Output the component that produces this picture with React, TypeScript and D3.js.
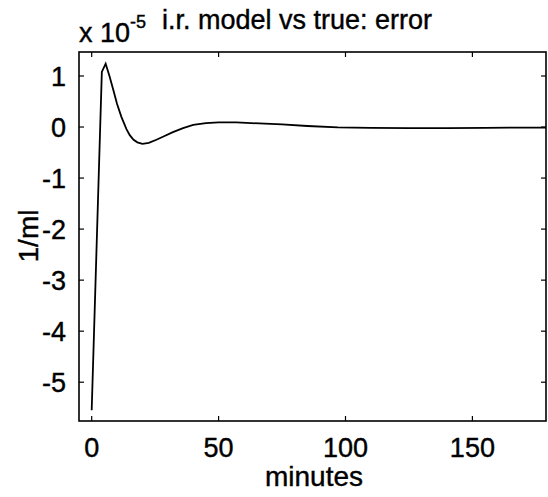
import React from "react";
import * as d3 from "d3";

const minutes = [0, 4, 5.5, 7, 8.5, 10, 11.7, 13.7, 15, 16.5, 18, 20, 22.5, 25.5, 28.5, 32, 36, 40, 45, 50, 57, 66, 75, 85, 97, 110, 125, 140, 155, 170, 180];
const errorVals = [-5.55, 1.08, 1.24, 1.0, 0.73, 0.45, 0.2, -0.04, -0.16, -0.25, -0.3, -0.33, -0.31, -0.25, -0.18, -0.1, -0.02, 0.04, 0.075, 0.09, 0.09, 0.07, 0.05, 0.02, -0.005, -0.015, -0.02, -0.02, -0.015, -0.01, -0.01];
const xTicks = [0, 50, 100, 150];
const yTicks = [-5, -4, -3, -2, -1, 0, 1];

const W = 548;
const H = 497;
const left = 79;
const right = 546;
const top = 52;
const bottom = 421;
const FONT = "'Liberation Sans', Arial, Helvetica, sans-serif";
const FS = 27;

export default function App() {
  const x = d3.scaleLinear().domain([-5, 179]).range([left, right]);
  const y = d3.scaleLinear().domain([-5.76, 1.47]).range([bottom, top]);
  const pts = minutes.map((m, i) => [m, errorVals[i]] as [number, number]);
  const line = d3
    .line<[number, number]>()
    .x((d) => x(d[0]))
    .y((d) => y(d[1]))
    .curve(d3.curveLinear);
  const tl = 5;
  const textProps = { fill: "#000", stroke: "#000", strokeWidth: 0.4 };
  return (
    <svg
      width={W}
      height={H}
      style={{ position: "absolute", left: 0, top: 0, background: "#fff" }}
      fontFamily={FONT}
    >
      <rect x={0} y={0} width={W} height={H} fill="#fff" />
      <defs>
        <clipPath id="plot">
          <rect x={left} y={top} width={right - left} height={bottom - top} />
        </clipPath>
      </defs>
      <path d={line(pts) || ""} fill="none" stroke="#000" strokeWidth={1.8} clipPath="url(#plot)" />
      <rect x={left} y={top} width={right - left} height={bottom - top} fill="none" stroke="#000" strokeWidth={1.6} />
      {xTicks.map((t) => (
        <g key={"x" + t}>
          <line x1={x(t)} x2={x(t)} y1={bottom} y2={bottom - tl} stroke="#000" strokeWidth={1.2} />
          <line x1={x(t)} x2={x(t)} y1={top} y2={top + tl} stroke="#000" strokeWidth={1.2} />
          <text x={x(t)} y={457} textAnchor="middle" fontSize={FS} {...textProps}>
            {t}
          </text>
        </g>
      ))}
      {yTicks.map((t) => (
        <g key={"y" + t}>
          <line x1={left} x2={left + tl} y1={y(t)} y2={y(t)} stroke="#000" strokeWidth={1.2} />
          <line x1={right} x2={right - tl} y1={y(t)} y2={y(t)} stroke="#000" strokeWidth={1.2} />
          <text x={66} y={y(t)} dy="0.36em" textAnchor="end" fontSize={FS} {...textProps}>
            {t}
          </text>
        </g>
      ))}
      <text x={79} y={42} fontSize={FS} {...textProps}>
        x 10
        <tspan dy={-14} fontSize={18}>
          -5
        </tspan>
      </text>
      <text x={162} y={29} fontSize={FS} {...textProps}>
        i.r. model vs true: error
      </text>
      <text x={314} y={486} textAnchor="middle" fontSize={28} {...textProps}>
        minutes
      </text>
      <text transform={`translate(38,236) rotate(-90)`} textAnchor="middle" fontSize={28} {...textProps}>
        1/ml
      </text>
    </svg>
  );
}
